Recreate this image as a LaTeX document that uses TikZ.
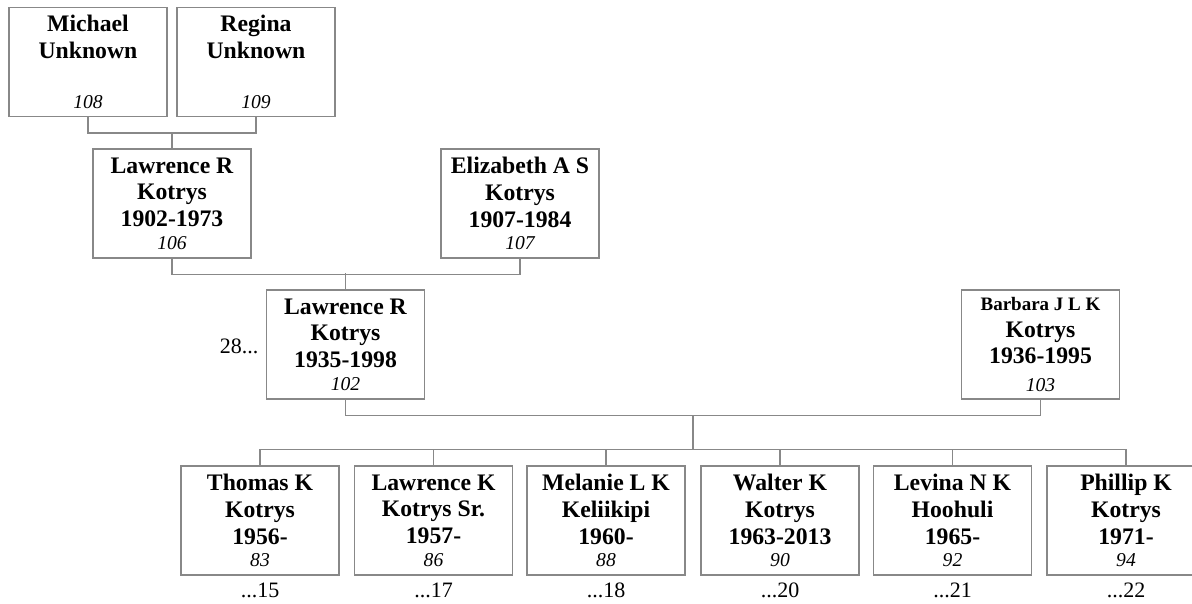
\documentclass[tikz,border=0pt]{standalone}
\usepackage{fontspec}
\setmainfont{Liberation Serif}
\usetikzlibrary{positioning}
\definecolor{linkgray}{RGB}{136,136,136}
\newcommand{\idnum}[1]{{\fontsize{9.8}{11}\selectfont\mdseries\itshape #1}}
\newcommand{\smallname}[1]{{\fontsize{9.5}{11}\selectfont #1}}
\tikzset{
	person_box/.style = {
		draw=linkgray,
		line width=0.7pt,
		fill=white,
		align=center,
		inner sep=0pt,
		text centered,
		minimum width=79pt,
		minimum height=54.5pt,
		font=\fontsize{11.85}{13.35}\selectfont\bfseries
	},
	gen_ref/.style = {
		inner sep=0pt,
		font=\fontsize{11}{13}\selectfont
	},
	link/.style = {
		draw=linkgray,
		line width=0.7pt
	},
}

\begin{document}
\begin{tikzpicture}[x=0.5pt, y=-0.5pt]
\useasboundingbox (0,0) rectangle (1192,604);
\clip (0,0) rectangle (1192,604);

% grandparents of the father
\node [person_box] (m108) at (88,62) {Michael\\Unknown\\[11.65pt]\idnum{108}};
\node [person_box] (r109) at (256,62) {Regina\\Unknown\\[11.65pt]\idnum{109}};

% parents of the father
\node [person_box] (l106) at (172,203.5) {Lawrence R\\Kotrys\\1902-1973\\[-2.1pt]\idnum{106}};
\node [person_box] (e107) at (520,203.5) {Elizabeth A S\\Kotrys\\1907-1984\\[-2.1pt]\idnum{107}};

% the couple
\node [person_box] (l102) at (345.5,344.5) {Lawrence R\\Kotrys\\1935-1998\\[-2.1pt]\idnum{102}};
\node [person_box] (b103) at (1040.5,344.5) {\smallname{Barbara J L K}\\[0.15pt]Kotrys\\1936-1995\\[0.65pt]\idnum{103}};
\node [gen_ref, left=3.5pt of l102, yshift=-1pt] (r28) {28...};

% children
\node [person_box] (t83) at (260,520.5) {Thomas K\\Kotrys\\1956-\\[-2.1pt]\idnum{83}};
\node [person_box] (l86) at (433.5,520.5) {Lawrence K\\Kotrys Sr.\\1957-\\[-2.1pt]\idnum{86}};
\node [person_box] (m88) at (606,520.5) {Melanie L K\\Keliikipi\\1960-\\[-2.1pt]\idnum{88}};
\node [person_box] (w90) at (780,520.5) {Walter K\\Kotrys\\1963-2013\\[-2.1pt]\idnum{90}};
\node [person_box] (l92) at (952.5,520.5) {Levina N K\\Hoohuli\\1965-\\[-2.1pt]\idnum{92}};
\node [person_box] (p94) at (1126,520.5) {Phillip K\\Kotrys\\1971-\\[-2.1pt]\idnum{94}};

\node [gen_ref, anchor=base] (r15) at ([yshift=-11pt]t83.south) {...15};
\node [gen_ref, anchor=base] (r17) at ([yshift=-11pt]l86.south) {...17};
\node [gen_ref, anchor=base] (r18) at ([yshift=-11pt]m88.south) {...18};
\node [gen_ref, anchor=base] (r20) at ([yshift=-11pt]w90.south) {...20};
\node [gen_ref, anchor=base] (r21) at ([yshift=-11pt]l92.south) {...21};
\node [gen_ref, anchor=base] (r22) at ([yshift=-11pt]p94.south) {...22};

% connectors
\draw [link] (m108.south) -- ++(0,16) -| (r109.south);
\draw [link] (l106.north) -- ++(0,-16);
\draw [link] (l106.south) -- ++(0,16) -| (e107.south);
\draw [link] (l102.north) -- ++(0,-16);
\draw [link] (l102.south) -- ++(0,16) -| (b103.south);
\coordinate (fam_top) at (693,415);
\coordinate (fam_bar) at (693,450);
\draw [link] (fam_top) -- (fam_bar);
\draw [link] (t83.north) -- ++(0,-16) -| (p94.north);
\foreach \kid in {l86,m88,w90,l92}
	\draw [link] (\kid.north) -- ++(0,-16);
\end{tikzpicture}
\end{document}
